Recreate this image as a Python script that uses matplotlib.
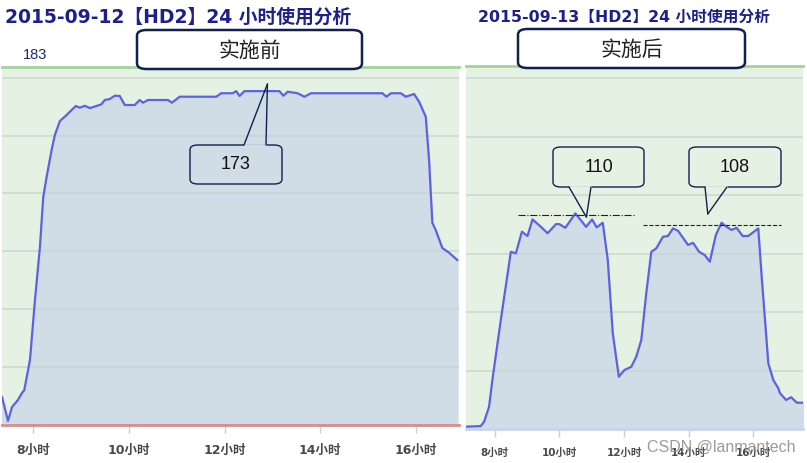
import matplotlib
matplotlib.use('Agg')
from matplotlib import pyplot as plt
from matplotlib.patches import FancyBboxPatch, ConnectionPatch
from matplotlib.lines import Line2D

plt.rcParams['font.family'] = ['DejaVu Sans', 'Noto Sans CJK SC']

# 2015-09-12 (before): hour of day, concurrent usage
before_hours = [7.354, 7.479, 7.563, 7.688, 7.771, 7.819, 7.938, 8.042, 8.146, 8.215,
                8.285, 8.390, 8.458, 8.563, 8.702, 8.806, 8.896, 8.979, 9.083, 9.188,
                9.327, 9.431, 9.500, 9.604, 9.708, 9.813, 9.917, 10.125, 10.229, 10.298,
                10.402, 10.819, 10.902, 11.063, 11.827, 11.931, 12.173, 12.244, 12.313, 12.417,
                13.146, 13.229, 13.319, 13.527, 13.667, 13.806, 15.298, 15.381, 15.473, 15.681,
                15.785, 15.958, 16.063, 16.202, 16.271, 16.340, 16.410, 16.548, 16.688, 16.860]
before_values = [14.5, 2.1, 9.3, 13.0, 16.6, 18.1, 33.7, 64.8, 92.2, 118.1,
                 128.5, 142.5, 150.3, 157.5, 160.6, 163.2, 165.3, 164.4, 165.4, 164.2,
                 165.3, 166.2, 168.4, 168.9, 170.6, 170.5, 165.8, 165.8, 168.4, 167.0,
                 168.4, 168.4, 167.0, 170.1, 170.1, 171.9, 171.9, 173.0, 170.5, 173.0,
                 173.0, 170.6, 172.7, 171.9, 170.1, 171.9, 171.9, 170.1, 171.9, 171.9,
                 170.1, 171.5, 167.5, 159.7, 137.3, 104.7, 101.0, 91.7, 89.3, 85.5]

# 2015-09-13 (after)
after_hours = [7.118, 7.565, 7.668, 7.823, 7.925, 8.186, 8.497, 8.652, 8.839, 9.012,
               9.168, 9.429, 9.634, 9.894, 9.997, 10.183, 10.494, 10.826, 11.012, 11.155,
               11.342, 11.497, 11.652, 11.839, 12.016, 12.224, 12.379, 12.534, 12.689, 12.845,
               13.000, 13.205, 13.360, 13.516, 13.671, 13.981, 14.137, 14.323, 14.500, 14.655,
               14.842, 15.019, 15.174, 15.329, 15.484, 15.671, 15.845, 16.155, 16.261, 16.466,
               16.621, 16.776, 16.829, 17.016, 17.171, 17.348, 17.534]
after_values = [1.2, 1.5, 3.7, 11.4, 25.1, 55.9, 90.9, 90.1, 101.2, 99.0,
                107.5, 103.7, 100.4, 105.1, 105.1, 103.2, 110.6, 103.7, 107.5, 103.4,
                105.8, 86.7, 49.1, 26.8, 30.3, 31.9, 37.1, 45.6, 69.6, 90.9,
                92.7, 98.6, 99.0, 102.9, 101.7, 94.4, 95.5, 90.9, 89.2, 85.8,
                99.5, 105.8, 103.7, 102.1, 103.2, 99.0, 99.0, 102.9, 78.1, 33.7,
                25.1, 20.9, 18.3, 14.9, 16.3, 13.5, 13.5]

tick_hours = [8, 10, 12, 14, 16]
tick_labels = ['8小时', '10小时', '12小时', '14小时', '16小时']
grid_values = [30, 60, 90, 120, 150, 180]
titles = ['2015-09-12【HD2】24 小时使用分析', '2015-09-13【HD2】24 小时使用分析']
phase_labels = ['实施前', '实施后']
peak_labels = ['173', '110', '108']

W, H = 807, 463
fig = plt.figure(figsize=(W / 100, H / 100), dpi=100)


def px(x, y):
    return (x / W, 1 - y / H)


def box_at(x0, y0, x1, y1):
    return [x0 / W, 1 - y1 / H, (x1 - x0) / W, (y1 - y0) / H]


bg = '#e5f1e3'
fill_c = '#d0dce6'
line_c = '#5b63e2'
navy = '#0f2150'

ax1 = fig.add_axes(box_at(2, 67, 459, 425))
ax2 = fig.add_axes(box_at(466, 66, 803, 429))

for ax, hrs, vals, xl, ylim, bottom_c, fs in [
        (ax1, before_hours, before_values, (7.354, 16.896), 185.5, '#d98c8c', 9),
        (ax2, after_hours, after_values, (7.109, 17.54), 186.2, '#c6d6ea', 7.5)]:
    ax.set_facecolor(bg)
    ax.fill_between(hrs, vals, 0, color=fill_c, zorder=2)
    ax.plot(hrs, vals, color=line_c, lw=1.6, zorder=3)
    for g in grid_values:
        ax.axhline(g, color='#c9d2cc', lw=1.2, alpha=0.8, zorder=2.5)
    ax.set_xlim(*xl)
    ax.set_ylim(0, ylim)
    ax.set_yticks([])
    ax.set_xticks(tick_hours)
    ax.set_xticklabels(tick_labels, fontsize=fs, color='#4a4a4a', fontweight='bold')
    ax.tick_params(axis='x', length=6, width=1, color='#c8d0dc', pad=8)
    for s in ['left', 'right']:
        ax.spines[s].set_visible(False)
    ax.spines['top'].set_color('#a3d39b')
    ax.spines['top'].set_linewidth(2)
    ax.spines['bottom'].set_color(bottom_c)
    ax.spines['bottom'].set_linewidth(2)

# titles
fig.text(*px(5, 17), titles[0], fontsize=13.5, fontweight='bold', color='#1d1f8c',
         ha='left', va='center')
fig.text(*px(478, 17), titles[1], fontsize=11.3, fontweight='bold', color='#1d1f8c',
         ha='left', va='center')
fig.text(*px(35, 55), '183', fontsize=10.5, color='#1a2a6a', ha='center', va='center',
         family='Liberation Sans')

# phase boxes
for (x0, y0, x1, y1), lab in zip([(137, 30, 362, 69), (518, 29, 745, 68)], phase_labels):
    fig.patches.append(FancyBboxPatch(px(x0, y1), (x1 - x0) / W, (y1 - y0) / H,
                                      boxstyle='round,pad=0,rounding_size=0.012',
                                      transform=fig.transFigure, facecolor='white',
                                      edgecolor=navy, lw=1.8, zorder=5))
    fig.text(*px((x0 + x1) / 2, (y0 + y1) / 2 + 1), lab, fontsize=15, color='#222222',
             family='Noto Sans CJK SC', ha='center', va='center', zorder=6)

# peak callouts: box, base points of the pointer, apex in data coords
callouts = [
    (ax1, (190, 145, 282, 184), (244, 266), 145, (12.896, 176.7), fill_c),
    (ax2, (553, 147, 644, 187), (569, 591), 187, (10.835, 108.7), bg),
    (ax2, (689, 147, 781, 187), (705, 727), 187, (14.593, 110.3), bg),
]
for (ax, (x0, y0, x1, y1), (b0, b1), by, apex, cover), lab in zip(callouts, peak_labels):
    fig.patches.append(FancyBboxPatch(px(x0, y1), (x1 - x0) / W, (y1 - y0) / H,
                                      boxstyle='round,pad=0,rounding_size=0.01',
                                      transform=fig.transFigure, facecolor='none',
                                      edgecolor=navy, lw=1.0, zorder=5))
    fig.lines.append(Line2D([(b0 + 1) / W, (b1 - 1) / W], [1 - by / H, 1 - by / H],
                            transform=fig.transFigure, color=cover, lw=2, zorder=5.5))
    for b in (b0, b1):
        fig.add_artist(ConnectionPatch(xyA=px(b, by), coordsA=fig.transFigure,
                                       xyB=apex, coordsB=ax.transData,
                                       color=navy, lw=1.0, zorder=6))
    fig.text(*px((x0 + x1) / 2, (y0 + y1) / 2), lab, fontsize=13, color='#111111',
             family='Liberation Sans', ha='center', va='center', zorder=6)

# reference lines at the two peaks after the change
ax2.hlines(109.7, 8.724, 12.295, colors='#222222', lw=0.8, linestyles='-.', zorder=4)
ax2.hlines(104.6, 12.575, 16.86, colors='#222222', lw=0.8, linestyles='--', zorder=4)

fig.text(*px(721, 447), 'CSDN @lanmantech', fontsize=11.5, color='#8a8a8a', alpha=0.85,
         ha='center', va='center', family='Liberation Sans', zorder=7)

plt.savefig('out.png', dpi=100)
